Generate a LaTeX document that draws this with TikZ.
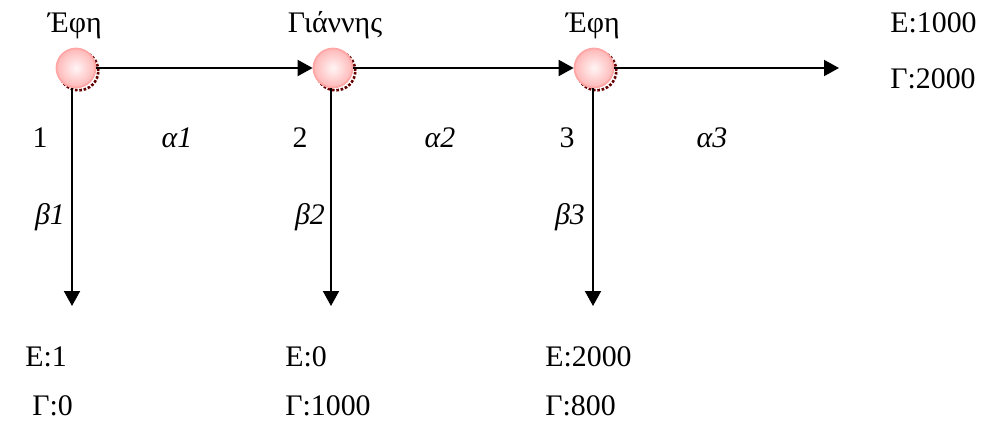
\documentclass[tikz,border=0pt]{standalone}
\usepackage{fontspec}
\setmainfont{Liberation Serif}
\usepackage{tikz}
\usetikzlibrary{
  positioning,
  arrows.meta
}
\tikzset{ball/.style={circle, minimum size=0.78cm, inner sep=0pt,
  draw=red!35, line width=1pt,
  inner color=red!4, outer color=red!28,
  preaction={draw=red!40!black, densely dotted, line width=1.5pt,
    transform canvas={xshift=1.6pt, yshift=-1.6pt}}},
  flow/.style={-{Triangle[length=0.3cm, width=0.32cm]}, line width=1.1pt},
  lbl/.style={anchor=base, inner sep=0pt},
  lbll/.style={anchor=base west, inner sep=0pt}}

\begin{document}
\begin{tikzpicture}[x=0.02cm, y=-0.02cm, font=\fontsize{17}{20}\selectfont]
  \useasboundingbox (0,0) rectangle (981,423);
  % kombi
  \node[ball] (n1) at (76,68) {};
  \node[ball] (n2) at (333,68) {};
  \node[ball] (n3) at (594,68) {};
  \coordinate (e3) at (839,68);
  \coordinate (d1) at (72,306);
  \coordinate (d2) at (331,306);
  \coordinate (d3) at (593,306);
  % onomata
  \node[lbl] (p1) at (75,32) {Έφη};
  \node[lbl] (p2) at (335,32) {Γιάννης};
  \node[lbl] (p3) at (593,32) {Έφη};
  % velh
  \draw[flow] (n1) -- (n2);
  \draw[flow] (n2) -- (n3);
  \draw[flow] (n3) -- (e3);
  \draw[flow] (n1.south -| d1) -- (d1);
  \draw[flow] (n2.south -| d2) -- (d2);
  \draw[flow] (n3.south -| d3) -- (d3);
  % arithmoi kai klados
  \node[lbl] (k1) at (40,147) {1};
  \node[lbl] (k2) at (300,147) {2};
  \node[lbl] (k3) at (567,147) {3};
  \node[lbl] (a1) at (177,147) {\textit{α1}};
  \node[lbl] (a2) at (440,147) {\textit{α2}};
  \node[lbl] (a3) at (712,147) {\textit{α3}};
  \node[lbl] (b1) at (50,224) {\textit{β1}};
  \node[lbl] (b2) at (310,224) {\textit{β2}};
  \node[lbl] (b3) at (570,224) {\textit{β3}};
  % apolavh
  \node[lbll] (r3e) at (890,32) {Ε:1000};
  \node[lbll] (r3g) at (890,88) {Γ:2000};
  \node[lbll] (r1e) at (25,366) {Ε:1};
  \node[lbll] (r1g) at (32,415) {Γ:0};
  \node[lbll] (r2e) at (285,366) {Ε:0};
  \node[lbll] (r2g) at (285,415) {Γ:1000};
  \node[lbll] (r4e) at (545,366) {Ε:2000};
  \node[lbll] (r4g) at (545,415) {Γ:800};
\end{tikzpicture}
\end{document}
